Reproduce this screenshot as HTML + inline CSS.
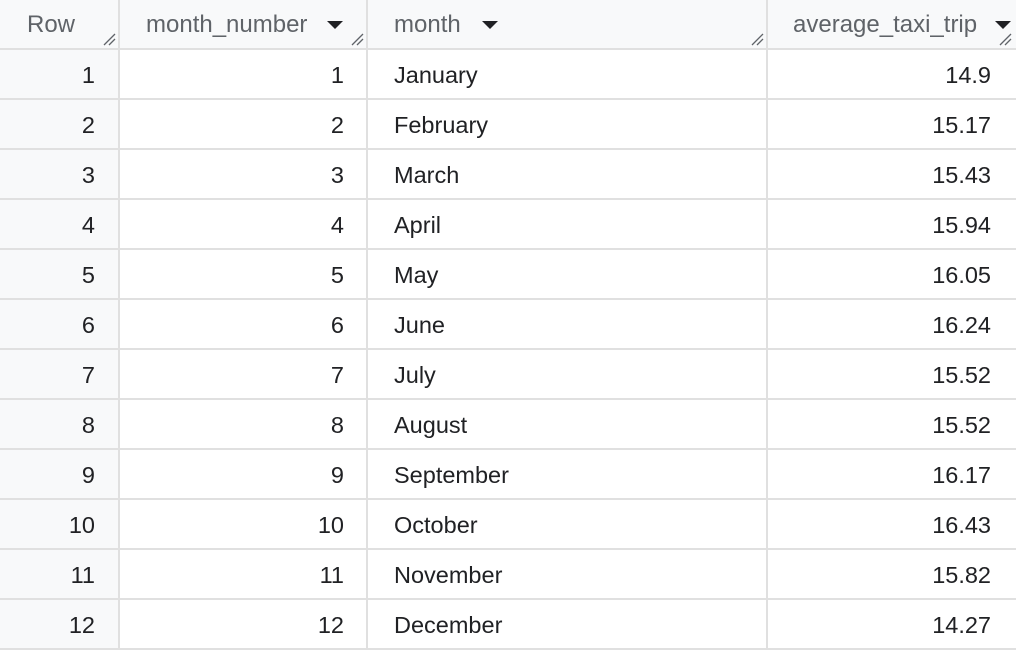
<!DOCTYPE html>
<html><head><meta charset="utf-8"><style>
body{margin:0;width:1016px;height:650px;overflow:hidden;background:#fff;font-family:"Liberation Sans",Arial,sans-serif;}
#t{position:relative;width:1016px;height:650px;}
.c{position:absolute;box-sizing:border-box;height:50px;line-height:50px;font-size:23.5px;color:#202124;border-left:2px solid #e0e0e0;border-bottom:2px solid #e0e0e0;white-space:nowrap;}
.h{background:#f8f9fa;}
.hd{color:#5f6368;font-size:24px;}
.r{text-align:right;}
.arrow{position:absolute;top:21px;width:0;height:0;border-left:8px solid transparent;border-right:8px solid transparent;border-top:8px solid #202124;}
.grip{position:absolute;right:4px;bottom:2px;width:14px;height:14px;}
</style></head><body>
<div id="t"></div>
<script>
const rowNums=[1,2,3,4,5,6,7,8,9,10,11,12];
const monthNumbers=[1,2,3,4,5,6,7,8,9,10,11,12];
const months=["January","February","March","April","May","June","July","August","September","October","November","December"];
const avgTrips=["14.9","15.17","15.43","15.94","16.05","16.24","15.52","15.52","16.17","16.43","15.82","14.27"];
const t=document.getElementById('t');
const cols=[{x:-2,w:122},{x:118,w:250},{x:366,w:402},{x:766,w:250}];
const grip='<svg class="grip" viewBox="0 0 14 14"><path d="M2 13 L13 2 M7 13 L13 7" stroke="#5f6368" stroke-width="1.3"/></svg>';
function cell(ci,y,cls,html,pad){
  const d=document.createElement('div');
  d.className='c '+cls;
  d.style.left=cols[ci].x+'px';d.style.top=y+'px';d.style.width=cols[ci].w+'px';
  if(pad)Object.assign(d.style,pad);
  d.innerHTML=html;t.appendChild(d);return d;
}
let h;
h=cell(0,0,'h hd','<span style="position:absolute;left:27px">Row</span>'+grip);


h=cell(1,0,'h hd','<span style="position:absolute;left:26px">month_number</span><span class="arrow" style="left:207px"></span>'+grip);


h=cell(2,0,'h hd','<span style="position:absolute;left:26px">month</span><span class="arrow" style="left:114px"></span>'+grip);


h=cell(3,0,'h hd','<span style="position:absolute;left:25px">average_taxi_trip</span><span class="arrow" style="left:227px"></span>'+grip);


for(let i=0;i<rowNums.length;i++){
  const y=50+i*50;
  let c=cell(0,y,'h r',rowNums[i],{paddingRight:'25px'});
  
  
  c=cell(1,y,'r',monthNumbers[i],{paddingRight:'24px'});
  
  
  c=cell(2,y,'',months[i],{paddingLeft:'26px'});
  
  
  c=cell(3,y,'r',avgTrips[i],{paddingRight:'25px'});
  
  
}
</script>
</body></html>
